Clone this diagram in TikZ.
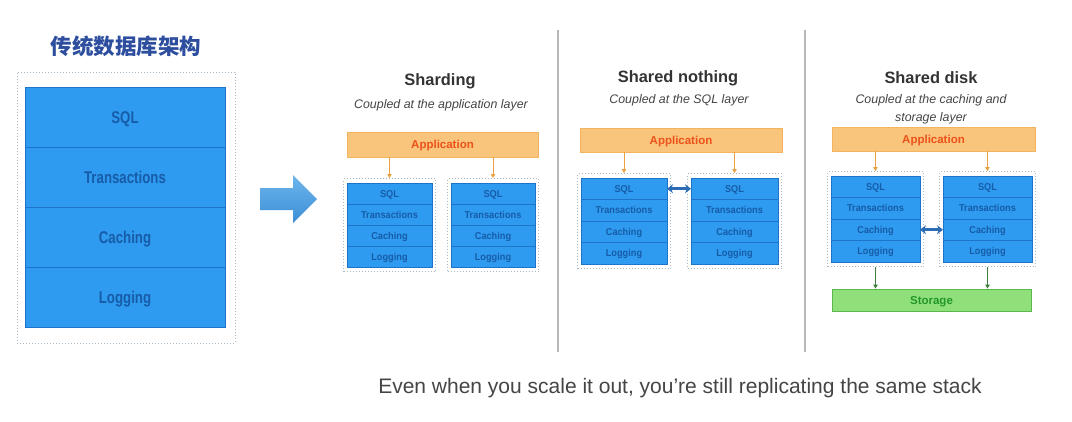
\documentclass[tikz,border=0pt]{standalone}
\usepackage{fontspec}
\setmainfont{Liberation Sans}
\newfontfamily\condsans{Liberation Sans}[FakeStretch=0.78]
\newfontfamily\semicond{Liberation Sans}[FakeStretch=0.92]
\newfontfamily\cjk{Noto Sans CJK SC}
\usetikzlibrary{arrows.meta,fit}
\definecolor{stackblue}{HTML}{2E9BF0}
\definecolor{stackline}{HTML}{1E74C8}
\definecolor{stacktext}{HTML}{175CA8}
\definecolor{appfill}{HTML}{F9C47C}
\definecolor{appline}{HTML}{F2B45E}
\definecolor{apptext}{HTML}{EC521A}
\definecolor{apparrow}{HTML}{EBA042}
\definecolor{storfill}{HTML}{8FE07A}
\definecolor{storline}{HTML}{5DB84C}
\definecolor{stortext}{HTML}{23962A}
\definecolor{greenarrow}{HTML}{3E7F3E}
\definecolor{dblarrow}{HTML}{2B6CB5}
\definecolor{titleblue}{HTML}{2D4E9E}
\definecolor{sepgray}{HTML}{B8B8B8}
\definecolor{dotgray}{HTML}{A8B8C6}
\definecolor{bigarrowtop}{HTML}{6DB6EC}
\definecolor{bigarrowbot}{HTML}{3C8ED6}
\definecolor{titlegray}{HTML}{333333}
\definecolor{subgray}{HTML}{454545}
\newcommand\fsz[1]{\fontsize{#1}{#1}\selectfont}
\newcommand\mystack[6]{%
  \foreach \t [count=\i] in {SQL,Transactions,Caching,Logging}{%
    \node[layer, minimum width=#4, minimum height=#5, font=\semicond\bfseries\fsz{#6}, text height=0.72*#6pt, anchor=north]
      (#1-\i) at (#2, {#3+(\i-1)*#5}) {\t};
  }%
  \node[dotbox, fit=(#1-1)(#1-4), inner xsep=3.5pt, inner ysep=4.5pt] (#1-box) {};
}
\begin{document}
\begin{tikzpicture}[x=1pt,y=-1pt,
  layer/.style={draw=stackline, fill=stackblue, text=stacktext, inner sep=0pt, outer sep=0pt, line width=0.6pt, text depth=0pt},
  dotbox/.style={draw=dotgray, dotted, line width=1pt},
  appbar/.style={fill=appfill, draw=appline, line width=0.5pt, text=apptext, font=\bfseries\fsz{11.5}, inner sep=0pt, text height=8.3pt, text depth=0pt},
  storbar/.style={fill=storfill, draw=storline, line width=0.8pt, text=stortext, font=\bfseries\fsz{11.5}, inner sep=0pt, text height=8.3pt, text depth=0pt},
  ptitle/.style={text=titlegray, font=\bfseries\fsz{16.4}, inner sep=0pt},
  psub/.style={text=subgray, font=\itshape\fsz{12.4}, inner sep=0pt, align=center},
  apparr/.style={draw=apparrow, line width=0.9pt, -{Triangle[length=4pt,width=4.5pt]}},
  grarr/.style={draw=greenarrow, line width=0.9pt, -{Triangle[length=4pt,width=4.5pt]}},
  dbl/.style={draw=dblarrow, line width=2.8pt, {Stealth[length=6pt,width=9pt]}-{Stealth[length=6pt,width=9pt]}},
  sep/.style={draw=sepgray, line width=1.2pt}
]
\useasboundingbox (0,0) rectangle (1072,421);
\fill[white] (0,0) rectangle (1072,421);

% ---- left: traditional database
\node[text=titleblue, font=\cjk\bfseries\fsz{21.5}, inner sep=0pt] (ltitle) at (126,46) {传统数据库架构};
\node[dotbox, minimum width=218, minimum height=271, inner sep=0pt] (bigbox) at (126,207.5) {};
\foreach \t [count=\i] in {SQL,Transactions,Caching,Logging}{%
  \node[layer, minimum width=200, minimum height=60, font=\condsans\bfseries\fsz{17}, text height=12.2pt, anchor=north]
    (big-\i) at (125, {87+(\i-1)*60}) {\t};
}

% ---- big arrow
\shade[top color=bigarrowtop, bottom color=bigarrowbot]
  (260,188) -- (293,188) -- (293,175) -- (317,199) -- (293,223) -- (293,210) -- (260,210) -- cycle;

% ---- separators
\coordinate (sepa-top) at (558,30);
\coordinate (sepa-bot) at (558,352);
\coordinate (sepb-top) at (805,30);
\coordinate (sepb-bot) at (805,352);
\draw[sep] (sepa-top) -- (sepa-bot);
\draw[sep] (sepb-top) -- (sepb-bot);

% ---- Sharding
\node[ptitle] (t1) at (440,81) {Sharding};
\node[psub] (s1) at (441,105) {Coupled at the application layer};
\node[appbar, minimum width=191, minimum height=25] (app1) at (442.5,144.5) {Application};
\mystack{sh1}{389.5}{183}{85}{21}{10}
\mystack{sh2}{493}{183}{84}{21}{10}
\draw[apparr] (sh1-box.north |- app1.south) -- (sh1-box.north);
\draw[apparr] (sh2-box.north |- app1.south) -- (sh2-box.north);

% ---- Shared nothing
\node[ptitle] (t2) at (678,78) {Shared nothing};
\node[psub] (s2) at (679,100) {Coupled at the SQL layer};
\node[appbar, minimum width=202, minimum height=24] (app2) at (681,140) {Application};
\mystack{sn1}{624}{178}{86}{21.5}{10}
\mystack{sn2}{734.5}{178}{87}{21.5}{10}
\draw[apparr] (sn1-box.north |- app2.south) -- (sn1-box.north);
\draw[apparr] (sn2-box.north |- app2.south) -- (sn2-box.north);
\draw[dbl] (sn1-1.east) -- (sn2-1.west);

% ---- Shared disk
\node[ptitle] (t3) at (931,78) {Shared disk};
\node[psub] (s3) at (931,109.5) {Coupled at the caching and\\[5.6pt]storage layer};
\node[appbar, minimum width=203, minimum height=24] (app3) at (933.5,139) {Application};
\mystack{sd1}{875.5}{176}{89}{21.5}{10}
\mystack{sd2}{987.5}{176}{89}{21.5}{10}
\draw[apparr] (sd1-box.north |- app3.south) -- (sd1-box.north);
\draw[apparr] (sd2-box.north |- app3.south) -- (sd2-box.north);
\draw[dbl] (sd1-3.east) -- (sd2-3.west);
\node[storbar, minimum width=199, minimum height=22] (stor) at (931.5,300) {Storage};
\draw[grarr] (sd1-box.south) -- (sd1-box.south |- stor.north);
\draw[grarr] (sd2-box.south) -- (sd2-box.south |- stor.north);

% ---- bottom caption
\node[text=subgray, font=\fsz{21}, inner sep=0pt] (cap) at (680,388) {Even when you scale it out, you’re still replicating the same stack};
\end{tikzpicture}
\end{document}
